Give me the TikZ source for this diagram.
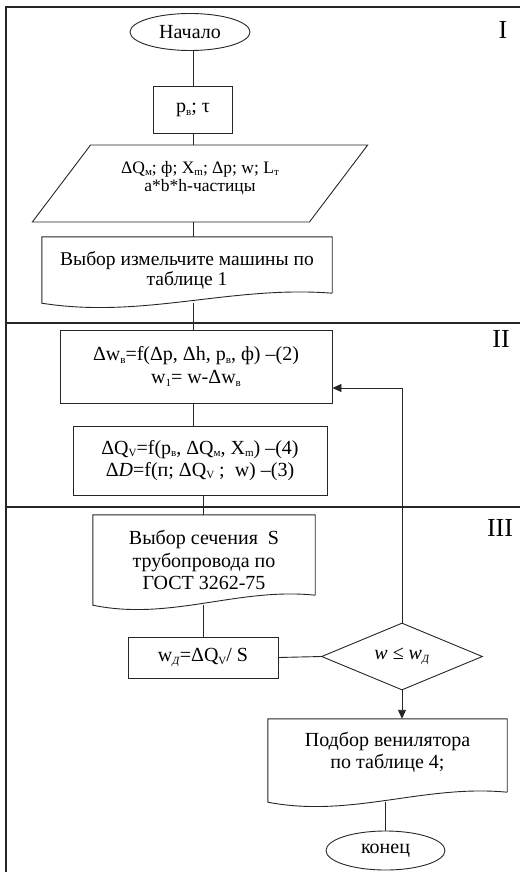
\documentclass[tikz,border=0pt]{standalone}
\usepackage{fontspec}
\setmainfont{Liberation Serif}
\usepackage{tikz}
\usetikzlibrary{arrows.meta}
\usetikzlibrary{shapes.geometric}
\tikzset{basic/.style={draw=black!85,line width=0.9pt,align=center,inner sep=2pt}}
\tikzset{block/.style={basic,rectangle}}
\def\subsc#1{\raisebox{-2.5pt}{\fontsize{11}{11}\selectfont #1}}
% wavy bottom of a document box, #2 = box width in pt
\def\docedge#1#2{
    \draw[flow] ([yshift=10pt]#1.south east) -- (#1.north east) -- (#1.north west) -- (#1.south west)
        .. controls +(0.35*#2pt,-16pt) and +(-0.35*#2pt,8pt) .. ([yshift=10pt]#1.south east);}

\begin{document}
\begin{tikzpicture}[x=1pt,y=-1pt,>={Triangle[length=9pt,width=8pt]}]
    \tikzstyle{flow}=[draw=black!85,line width=0.9pt]
    \tikzstyle{every node}=[font=\fontsize{20}{22}\selectfont]
    \tikzstyle{term}=[basic,ellipse,inner sep=0pt]
    \tikzstyle{data}=[basic,trapezium,trapezium left angle=48.5,trapezium right angle=131.5,
                      trapezium stretches=true,font=\fontsize{17.5}{18.5}\selectfont]
    \tikzstyle{doc}=[align=center,inner sep=2pt]
    \tikzstyle{decide}=[basic,diamond,shape aspect=2.4,inner sep=0pt]
    \tikzstyle{roman}=[font=\fontsize{26}{26}\selectfont]
    \useasboundingbox (0,0) rectangle (520,872);

    % frame and parts
    \draw[flow,line width=1.1pt] (520,7) -- (6,7) -- (6,872);
    \draw[flow,line width=1.1pt] (6,323) -- (520,323);
    \draw[flow,line width=1.1pt] (6,507) -- (520,507);
    \node[roman] (r1) at (503,30) {I};
    \node[roman] (r2) at (501,339) {II};
    \node[roman] (r3) at (500,528) {III};

    % part I
    \node[term,minimum width=120pt,minimum height=37pt] (start) at (190,32) {Начало};
    \node[block,minimum width=79pt,minimum height=47pt] (par) at (193,110) {p\subsc{в}; τ};
    \node[data,minimum width=336pt,minimum height=77pt,text depth=14pt] (inp) at (200,183.5)
        {ΔQ\subsc{м}; ф; X\subsc{m}; Δp; w; L\subsc{т}\\a*b*h-частицы};
    \node[doc,minimum width=290pt,minimum height=66pt,font=\fontsize{19.5}{20}\selectfont] (sel1) at (187,270)
        {Выбор измельчите машины по\\таблице 1};
    \docedge{sel1}{290}

    % part II
    \node[block,minimum width=272pt,minimum height=73pt,font=\fontsize{20}{23}\selectfont] (calc1) at (196,366.5)
        {Δw\subsc{в}=f(Δp, Δh, p\subsc{в}, ф) –(2)\\w\subsc{1}= w-Δw\subsc{в}};
    \node[block,minimum width=254pt,minimum height=69pt] (calc2) at (200,460.5)
        {ΔQ\subsc{V}=f(p\subsc{в}, ΔQ\subsc{м}, X\subsc{m}) –(4)\\Δ\textit{D}=f(п; ΔQ\subsc{V} ; \ w) –(3)};

    % part III
    \node[doc,minimum width=222pt,minimum height=90pt,font=\fontsize{20}{22.5}\selectfont] (sel2) at (204,560)
        {Выбор сечения \ S\\трубопровода по\\ГОСТ 3262-75};
    \docedge{sel2}{222}
    \node[block,minimum width=150pt,minimum height=41pt] (vel) at (203,657.5)
        {w\subsc{\textit{Д}}=ΔQ\subsc{V}/ S};
    \node[decide,minimum width=161pt,minimum height=67pt] (check) at (402,656.5)
        {\textit{w} ≤ \textit{w}\subsc{\textit{Д}}};
    \node[doc,minimum width=239pt,minimum height=83pt,text depth=20pt] (fan) at (387.5,760.5)
        {Подбор венилятора\\по таблице 4;};
    \docedge{fan}{239}
    \node[term,minimum width=119pt,minimum height=39pt] (end) at (385.5,850.5) {конец};
    \coordinate (back) at (400,388);

    % connectors
    \draw[flow] (par.north) -- (par.north |- start.south);
    \draw[flow] (par.south) -- (inp.north -| par.south);
    \draw[flow] (inp.south -| par.south) -- (sel1.north -| par.south);
    \draw[flow] (sel1.south -| par.south) -- (calc1.north -| par.south);
    \draw[flow] (calc1.south -| par.south) -- (calc2.north -| par.south);
    \draw[flow] (calc2.south -| vel.north) -- (sel2.north -| vel.north);
    \draw[flow] (sel2.south -| vel.north) -- (vel.north);
    \draw[flow] (vel.east) -- (check.west);
    \draw[flow,->] (check.north) -- (check.north |- back) -- (calc1.east |- back);
    \draw[flow,->] (check.south) -- (check.south |- fan.north);
    \draw[flow] (fan.south -| end.north) -- (end.north);
\end{tikzpicture}
\end{document}
